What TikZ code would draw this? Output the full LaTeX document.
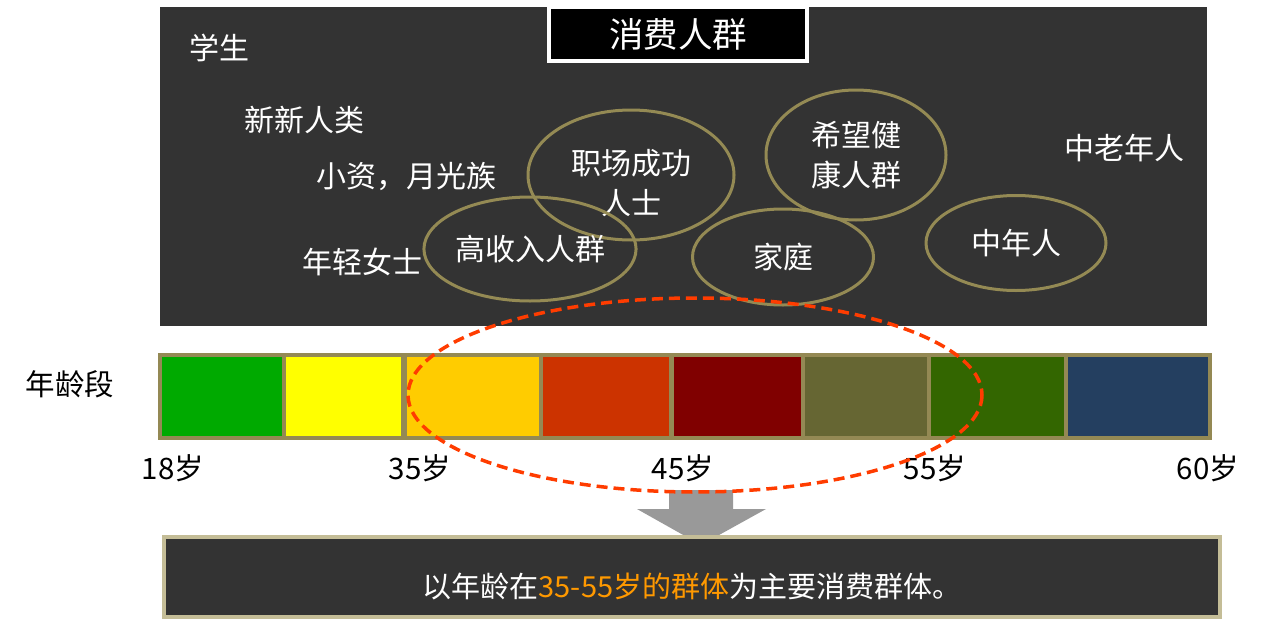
\documentclass[tikz,border=0pt]{standalone}
\usepackage{fontspec}
\setmainfont{Noto Sans CJK SC}
\usetikzlibrary{shapes, arrows.meta, positioning, calc}
\definecolor{panelgray}{RGB}{51,51,51}
\definecolor{ringolive}{RGB}{148,138,84}
\definecolor{barolive}{RGB}{148,137,84}
\definecolor{boxbeige}{RGB}{196,189,151}
\definecolor{dashred}{RGB}{255,60,0}
\definecolor{hiorange}{RGB}{255,153,0}
\definecolor{segA}{RGB}{0,170,0}
\definecolor{segB}{RGB}{255,255,0}
\definecolor{segC}{RGB}{255,204,0}
\definecolor{segD}{RGB}{204,51,0}
\definecolor{segE}{RGB}{128,0,0}
\definecolor{segF}{RGB}{102,102,51}
\definecolor{segG}{RGB}{51,102,0}
\definecolor{segH}{RGB}{36,63,96}

\begin{document}
\begin{tikzpicture}[x=1pt, y=-1pt,
  crowd/.style={text=white, font=\fontsize{30}{40}\selectfont, align=center, inner sep=0pt},
  ring/.style={crowd, ellipse, draw=ringolive, line width=3pt},
  agelabel/.style={font=\fontsize{29.5}{34}\selectfont, inner sep=0pt}]
  \useasboundingbox (0,0) rectangle (1274,621);

  % consumer panel
  \fill[panelgray] (160,7) rectangle (1207,326);
  \node[fill=black, draw=white, line width=4pt, minimum width=258pt, minimum height=54pt,
        text=white, font=\fontsize{34.5}{38}\selectfont] (title) at (678,34) {消费人群};

  \node[crowd] (student) at (219,48) {学生};
  \node[crowd] (newgen) at (304,120) {新新人类};
  \node[crowd] (petty) at (406,176) {小资，月光族};
  \node[crowd] (lady) at (362,262) {年轻女士};
  \node[crowd] (elder) at (1124,148) {中老年人};

  \node[ring, minimum width=206pt, minimum height=130pt,
        label={[crowd, yshift=-8pt]center:{职场成功\\人士}}] (career) at (631,175) {};
  \node[ring, minimum width=208pt, minimum height=104pt] (rich) at (530,249) {高收入人群};
  \node[ring, minimum width=180pt, minimum height=130pt] (health) at (856,155) {希望健\\康人群};
  \node[ring, minimum width=181pt, minimum height=96pt] (family) at (783,257) {家庭};
  \node[ring, minimum width=180pt, minimum height=95pt] (middle) at (1016,243) {中年人};

  % age bar
  \node[agelabel] (agehead) at (70,384) {年龄段};
  \fill[barolive] (158,353) rectangle (1212,440);
  \foreach \xa/\xb/\col in {162/282/segA, 286/401/segB, 407/539/segC, 543/669/segD,
                            674/801/segE, 805/927/segF, 931/1064/segG, 1068/1208/segH}
    \fill[\col] (\xa,357) rectangle (\xb,436);
  \foreach \xa/\age in {173/18, 420/35, 683/45, 935/55, 1208/60}
    \node[agelabel] (age\age) at (\xa,468) {\age 岁};

  % arrow to summary
  \fill[black!40] (669,490) -- (733,490) -- (733,509) -- (766,509) -- (701,545)
    -- (637,509) -- (669,509) -- cycle;
  \draw[dashred, line width=3.5pt, dash pattern=on 11pt off 6pt] (695,395) ellipse [x radius=287, y radius=97];

  % summary
  \node[fill=panelgray, draw=boxbeige, line width=4pt, minimum width=1056pt, minimum height=80pt,
        text height=42pt, text depth=2pt,
        text=white, font=\fontsize{29}{33}\selectfont] (summary) at (692,577)
        {以年龄在\textcolor{hiorange}{35-55岁的群体}为主要消费群体。};
\end{tikzpicture}
\end{document}
